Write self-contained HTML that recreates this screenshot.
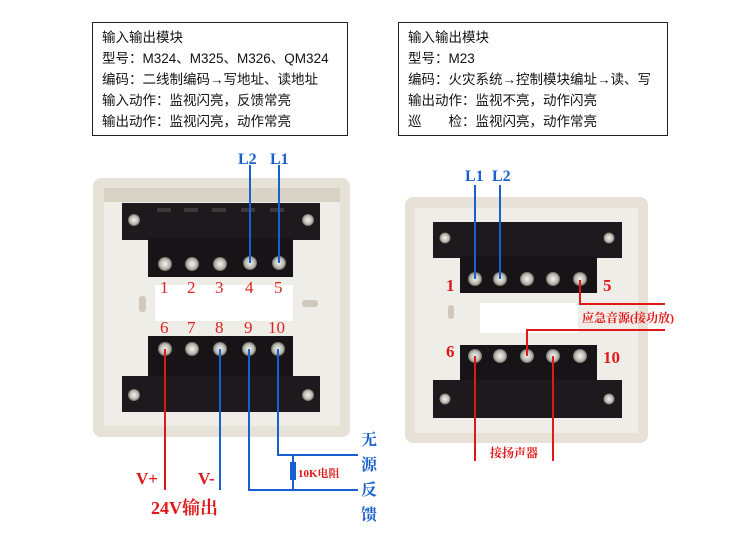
<!DOCTYPE html>
<html><head><meta charset="utf-8"><style>
body{margin:0;background:#fff;}
svg{display:block;}
.t{font-family:"Liberation Sans","Noto Sans CJK SC",sans-serif;font-size:13.5px;fill:#111;}
.n{font-family:"Liberation Serif","Noto Serif CJK SC",serif;font-size:17px;fill:#e02020;}
.b{font-family:"Liberation Serif","Noto Serif CJK SC",serif;font-weight:bold;fill:#1a5fd0;}
.r{font-family:"Liberation Serif","Noto Serif CJK SC",serif;font-weight:bold;fill:#e01818;}
</style></head><body>
<svg width="750" height="535" viewBox="0 0 750 535" xmlns="http://www.w3.org/2000/svg">
<defs>
<radialGradient id="sc"><stop offset="0" stop-color="#f4f4f0"/><stop offset="0.7" stop-color="#b8b8b0"/><stop offset="1" stop-color="#6a6a60"/></radialGradient>
</defs>
<rect x="92.5" y="22.5" width="255" height="113" fill="#fff" stroke="#222" stroke-width="1"/>
<text class="t" x="102" y="42">输入输出模块</text>
<text class="t" x="102" y="63">型号：M324、M325、M326、QM324</text>
<text class="t" x="102" y="84">编码：二线制编码→写地址、读地址</text>
<text class="t" x="102" y="105">输入动作：监视闪亮，反馈常亮</text>
<text class="t" x="102" y="126">输出动作：监视闪亮，动作常亮</text>
<rect x="398.5" y="22.5" width="269" height="113" fill="#fff" stroke="#222" stroke-width="1"/>
<text class="t" x="408" y="42">输入输出模块</text>
<text class="t" x="408" y="63">型号：M23</text>
<text class="t" x="408" y="84">编码：火灾系统→控制模块编址→读、写</text>
<text class="t" x="408" y="105">输出动作：监视不亮，动作闪亮</text>
<text class="t" x="408" y="126">巡　　检：监视闪亮，动作常亮</text>

<rect x="93" y="178" width="257" height="259" rx="8" fill="#e6e2d8"/>
<rect x="104" y="190" width="236" height="236" fill="#efede7"/>
<rect x="104" y="188" width="236" height="14" fill="#d9d3c5"/>
<rect x="155" y="285" width="138" height="36" fill="#fff"/>
<rect x="139" y="296" width="7" height="16" rx="3" fill="#cfc9bd"/>
<rect x="302" y="300" width="16" height="7" rx="3" fill="#cfc9bd"/>
<rect x="122" y="203" width="198" height="37" fill="#1c1a1c"/>
<rect x="148" y="238" width="145" height="39" fill="#161416"/>
<circle cx="134" cy="220" r="6" fill="url(#sc)"/><circle cx="308" cy="220" r="6" fill="url(#sc)"/>
<g fill="#3a3838"><rect x="157" y="208" width="14" height="4"/><rect x="184" y="208" width="14" height="4"/><rect x="212" y="208" width="14" height="4"/><rect x="241" y="208" width="14" height="4"/><rect x="270" y="208" width="14" height="4"/></g>
<g fill="url(#sc)"><circle cx="165" cy="264" r="7"/><circle cx="192" cy="264" r="7"/><circle cx="220" cy="264" r="7"/><circle cx="250" cy="263" r="7"/><circle cx="279" cy="263" r="7"/></g>
<g class="n"><text x="160" y="293">1</text><text x="187" y="293">2</text><text x="215" y="293">3</text><text x="245" y="293">4</text><text x="274" y="293">5</text>
<text x="160" y="333">6</text><text x="187" y="333">7</text><text x="215" y="333">8</text><text x="244" y="333">9</text><text x="268" y="333">10</text></g>
<rect x="148" y="336" width="145" height="42" fill="#161416"/>
<rect x="122" y="376" width="198" height="36" fill="#1c1a1c"/>
<circle cx="134" cy="395" r="6" fill="url(#sc)"/><circle cx="308" cy="395" r="6" fill="url(#sc)"/>
<g fill="url(#sc)"><circle cx="165" cy="349" r="7"/><circle cx="192" cy="349" r="7"/><circle cx="220" cy="349" r="7"/><circle cx="249" cy="349" r="7"/><circle cx="278" cy="349" r="7"/></g>
<g stroke="#1a5fd0" stroke-width="2" fill="none">
<line x1="250" y1="165" x2="250" y2="263"/><line x1="279" y1="165" x2="279" y2="263"/>
<line x1="220" y1="349" x2="220" y2="490"/>
<polyline points="249,349 249,490 358,490"/>
<polyline points="278,349 278,455 358,455"/>
<line x1="293" y1="455" x2="293" y2="490"/>
</g>
<rect x="290" y="462" width="6" height="18" fill="#1a5fd0"/>
<line x1="165" y1="349" x2="165" y2="490" stroke="#e01818" stroke-width="2"/>
<text class="b" x="238" y="164" font-size="16">L2</text><text class="b" x="270" y="164" font-size="16">L1</text>
<text class="r" x="298" y="477" font-size="11">10K电阻</text>
<g class="b" font-size="16"><text x="361" y="445">无</text><text x="361" y="470">源</text><text x="361" y="495">反</text><text x="361" y="520">馈</text></g>
<text class="r" x="136" y="484" font-size="17">V+</text>
<text class="r" x="198" y="484" font-size="17">V-</text>
<text class="r" x="151" y="514" font-size="18" font-weight="normal">24V输出</text>

<rect x="405" y="197" width="243" height="246" rx="8" fill="#e6e2d8"/>
<rect x="415" y="208" width="223" height="225" fill="#efede7"/>
<rect x="480" y="303" width="98" height="30" fill="#fff"/>
<rect x="448" y="305" width="6" height="14" rx="3" fill="#cfc9bd"/>
<rect x="433" y="222" width="189" height="36" fill="#1c1a1c"/>
<rect x="460" y="256" width="137" height="37" fill="#161416"/>
<circle cx="445" cy="238" r="5.5" fill="url(#sc)"/><circle cx="609" cy="238" r="5.5" fill="url(#sc)"/>
<g fill="url(#sc)"><circle cx="475" cy="279" r="7"/><circle cx="500" cy="279" r="7"/><circle cx="527" cy="279" r="7"/><circle cx="553" cy="279" r="7"/><circle cx="580" cy="279" r="7"/></g>
<rect x="460" y="345" width="137" height="37" fill="#161416"/>
<rect x="433" y="380" width="189" height="38" fill="#1c1a1c"/>
<circle cx="445" cy="399" r="5.5" fill="url(#sc)"/><circle cx="609" cy="399" r="5.5" fill="url(#sc)"/>
<g fill="url(#sc)"><circle cx="475" cy="356" r="7"/><circle cx="500" cy="356" r="7"/><circle cx="527" cy="356" r="7"/><circle cx="553" cy="356" r="7"/><circle cx="580" cy="356" r="7"/></g>
<g class="r" font-size="17"><text x="446" y="291">1</text><text x="603" y="291">5</text><text x="446" y="357">6</text><text x="603" y="363">10</text></g>
<g stroke="#1a5fd0" stroke-width="2" fill="none"><line x1="475" y1="185" x2="475" y2="279"/><line x1="500" y1="185" x2="500" y2="279"/></g>
<text class="b" x="465" y="181" font-size="16">L1</text><text class="b" x="492" y="181" font-size="16">L2</text>
<g stroke="#e01818" stroke-width="2" fill="none">
<polyline points="580,280 580,304 665,304"/>
<polyline points="527,356 527,330 665,330"/>
<line x1="475" y1="356" x2="475" y2="461"/><line x1="553" y1="356" x2="553" y2="461"/>
</g>
<text class="r" x="582" y="322" font-size="12">应急音源(接功放)</text>
<text class="r" x="490" y="457" font-size="12">接扬声器</text>
</svg>
</body></html>
